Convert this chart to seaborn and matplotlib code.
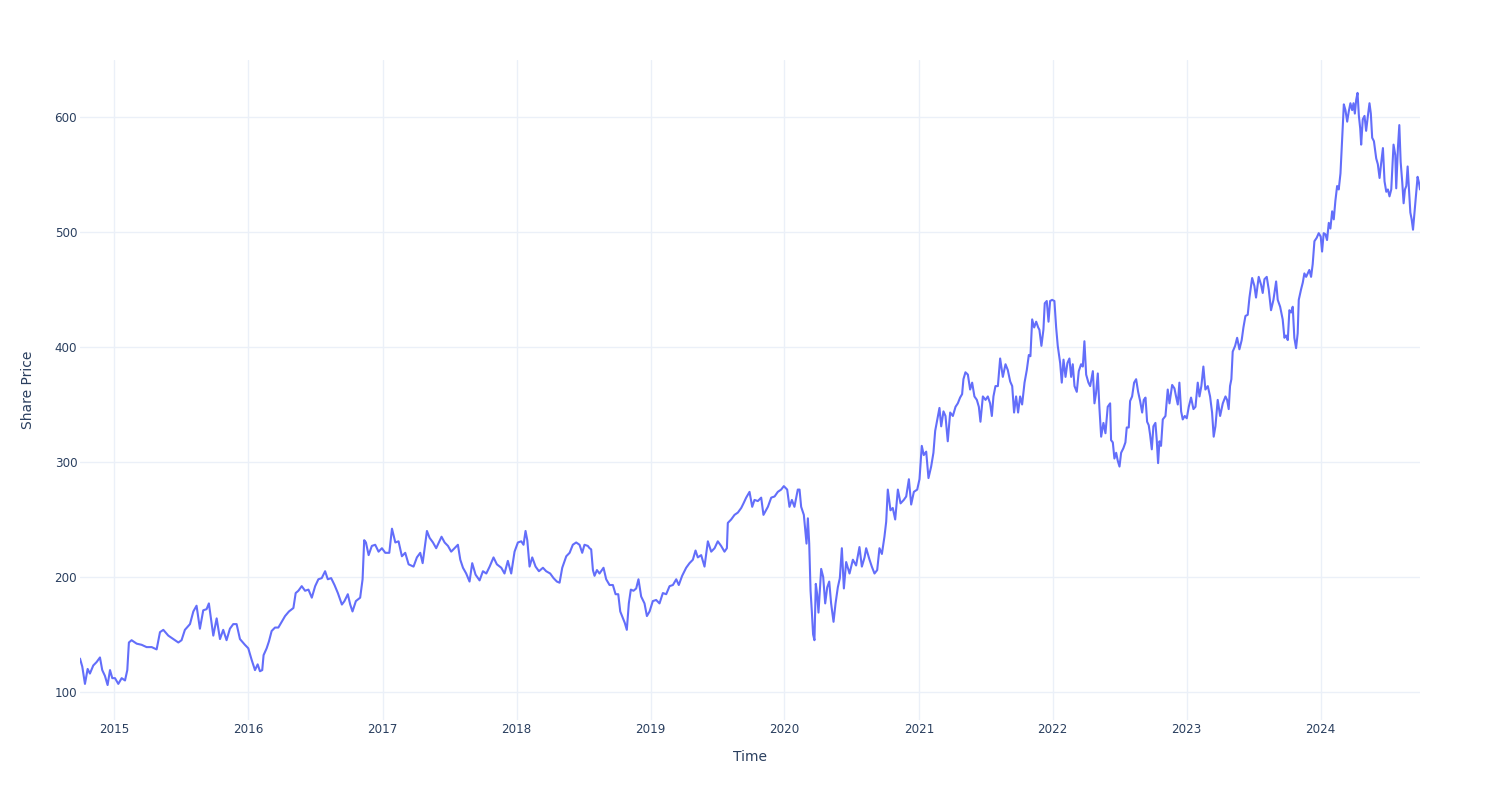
import numpy as np
import pandas as pd
import matplotlib
matplotlib.use("Agg")
import matplotlib.pyplot as plt
import matplotlib.dates as mdates
import seaborn as sns

# ---- data (time as decimal year, share price) ----
t_2014_2015 = [2014.744, 2014.761, 2014.781, 2014.801, 2014.818, 2014.843, 2014.868, 2014.893, 2014.910, 2014.930,
               2014.950, 2014.968, 2014.985, 2015.005, 2015.030, 2015.055, 2015.080, 2015.097, 2015.109, 2015.129,
               2015.167, 2015.204, 2015.241, 2015.279, 2015.316, 2015.341, 2015.366, 2015.403, 2015.440, 2015.478,
               2015.502, 2015.527, 2015.565, 2015.590, 2015.614, 2015.639, 2015.664, 2015.689, 2015.706, 2015.739,
               2015.764, 2015.789, 2015.813, 2015.838, 2015.863, 2015.888, 2015.913, 2015.938, 2015.975]
p_2014_2015 = [129, 122, 107, 120, 116, 123, 126, 130, 119, 114,
               106, 119, 112, 112, 107, 112, 110, 119, 143, 145,
               142, 141, 139, 139, 137, 152, 154, 149, 146, 143,
               145, 154, 159, 170, 175, 155, 171, 172, 177, 149,
               164, 146, 154, 145, 155, 159, 159, 146, 141]

t_2016_2017 = [2016.000, 2016.025, 2016.050, 2016.070, 2016.087, 2016.104, 2016.114, 2016.137, 2016.154, 2016.174,
               2016.199, 2016.224, 2016.249, 2016.274, 2016.303, 2016.336, 2016.353, 2016.373, 2016.398, 2016.423,
               2016.448, 2016.473, 2016.498, 2016.522, 2016.547, 2016.572, 2016.592, 2016.617, 2016.642, 2016.667,
               2016.697, 2016.716, 2016.741, 2016.759, 2016.776, 2016.801, 2016.833, 2016.851, 2016.863, 2016.876,
               2016.896, 2016.920, 2016.945, 2016.970, 2016.995, 2017.020, 2017.050, 2017.070, 2017.095, 2017.119,
               2017.144, 2017.169, 2017.194, 2017.231, 2017.256, 2017.281, 2017.299]
p_2016_2017 = [138, 128, 119, 124, 118, 119, 132, 138, 144, 153,
               156, 156, 161, 166, 170, 173, 186, 188, 192, 188,
               189, 182, 192, 198, 199, 205, 198, 199, 193, 186,
               176, 179, 185, 176, 170, 179, 182, 198, 232, 230,
               219, 227, 228, 222, 225, 221, 221, 242, 230, 231,
               218, 221, 211, 209, 217, 221, 212]

t_2017_2018 = [2017.313, 2017.331, 2017.351, 2017.376, 2017.400, 2017.420, 2017.440, 2017.463, 2017.488, 2017.512,
               2017.537, 2017.562, 2017.580, 2017.600, 2017.624, 2017.649, 2017.669, 2017.694, 2017.724, 2017.749,
               2017.774, 2017.799, 2017.828, 2017.853, 2017.886, 2017.910, 2017.935, 2017.960, 2017.985, 2018.010,
               2018.035, 2018.052, 2018.067, 2018.080, 2018.097, 2018.117, 2018.142, 2018.167, 2018.197, 2018.221,
               2018.251, 2018.276, 2018.301, 2018.321, 2018.341, 2018.371, 2018.396, 2018.420, 2018.445, 2018.470,
               2018.490, 2018.507, 2018.532]
p_2017_2018 = [224, 240, 234, 230, 225, 230, 235, 230, 227, 222,
               225, 228, 215, 208, 203, 196, 212, 202, 197, 205,
               203, 209, 217, 211, 208, 203, 214, 203, 222, 230,
               231, 228, 240, 232, 209, 217, 209, 205, 208, 205,
               203, 199, 196, 195, 208, 218, 221, 228, 230, 228,
               221, 228, 227]

t_2018_2019 = [2018.545, 2018.557, 2018.570, 2018.582, 2018.600, 2018.619, 2018.649, 2018.669, 2018.694, 2018.719,
               2018.739, 2018.759, 2018.774, 2018.794, 2018.808, 2018.823, 2018.838, 2018.853, 2018.873, 2018.893,
               2018.910, 2018.930, 2018.955, 2018.973, 2018.993, 2019.017, 2019.042, 2019.067, 2019.092, 2019.117,
               2019.142, 2019.167, 2019.192, 2019.211, 2019.236, 2019.266, 2019.291, 2019.316, 2019.336, 2019.353,
               2019.378, 2019.403, 2019.428, 2019.453, 2019.478, 2019.502, 2019.527, 2019.552, 2019.570, 2019.577,
               2019.602, 2019.627, 2019.652, 2019.677, 2019.694, 2019.714, 2019.739, 2019.759, 2019.776, 2019.801,
               2019.826, 2019.843]
p_2018_2019 = [225, 224, 206, 201, 206, 203, 208, 198, 193, 193,
               185, 185, 170, 164, 160, 154, 177, 189, 188, 190,
               198, 183, 177, 166, 170, 179, 180, 177, 186, 185,
               192, 193, 198, 193, 201, 208, 212, 215, 223, 217,
               219, 209, 231, 222, 225, 231, 227, 222, 225, 247,
               250, 254, 256, 260, 264, 269, 274, 261, 267, 266,
               269, 254]

t_2019_2021 = [2019.876, 2019.901, 2019.926, 2019.950, 2019.975, 2019.995, 2020.020, 2020.037, 2020.055, 2020.074,
               2020.099, 2020.112, 2020.124, 2020.144, 2020.154, 2020.164, 2020.174, 2020.184, 2020.194, 2020.203,
               2020.213, 2020.223, 2020.233, 2020.243, 2020.253, 2020.263, 2020.273, 2020.288, 2020.303, 2020.318,
               2020.333, 2020.347, 2020.365, 2020.380, 2020.397, 2020.412, 2020.427, 2020.442, 2020.459, 2020.484,
               2020.509, 2020.533, 2020.558, 2020.576, 2020.596, 2020.608, 2020.633, 2020.650, 2020.670, 2020.690,
               2020.707, 2020.725, 2020.744, 2020.757, 2020.769, 2020.789, 2020.806, 2020.824, 2020.844, 2020.864,
               2020.888, 2020.906, 2020.926, 2020.943, 2020.963, 2020.988, 2021.005, 2021.022, 2021.037, 2021.055,
               2021.072, 2021.092, 2021.109, 2021.122]
p_2019_2021 = [261, 269, 270, 274, 276, 279, 276, 261, 267, 261,
               276, 276, 261, 254, 241, 229, 251, 229, 188, 171,
               150, 145, 194, 185, 169, 188, 207, 200, 177, 191,
               196, 177, 161, 177, 191, 199, 225, 190, 213, 203,
               215, 210, 226, 209, 217, 225, 215, 209, 203, 206,
               225, 220, 235, 248, 276, 258, 260, 250, 276, 264,
               267, 270, 285, 263, 274, 276, 285, 314, 306, 309,
               286, 296, 308, 327]

t_2021_2022 = [2021.154, 2021.167, 2021.184, 2021.199, 2021.216, 2021.234, 2021.254, 2021.274, 2021.291, 2021.308,
               2021.323, 2021.333, 2021.348, 2021.366, 2021.383, 2021.398, 2021.415, 2021.433, 2021.448, 2021.460,
               2021.478, 2021.498, 2021.515, 2021.532, 2021.545, 2021.557, 2021.572, 2021.590, 2021.607, 2021.627,
               2021.647, 2021.664, 2021.682, 2021.697, 2021.711, 2021.726, 2021.741, 2021.756, 2021.771, 2021.789,
               2021.806, 2021.821, 2021.833, 2021.846, 2021.861, 2021.876, 2021.891, 2021.900, 2021.915, 2021.930,
               2021.940, 2021.955, 2021.968, 2021.980, 2021.995, 2022.012, 2022.025, 2022.037, 2022.055, 2022.067,
               2022.080, 2022.095, 2022.109, 2022.124, 2022.137, 2022.149, 2022.162, 2022.179, 2022.194, 2022.211,
               2022.224, 2022.236, 2022.249, 2022.266, 2022.279, 2022.299, 2022.311, 2022.323, 2022.336, 2022.348,
               2022.361, 2022.378, 2022.393, 2022.410, 2022.428]
p_2021_2022 = [347, 331, 344, 340, 318, 343, 340, 348, 351, 356,
               359, 372, 378, 376, 363, 369, 357, 354, 348, 335,
               357, 354, 357, 351, 340, 357, 366, 366, 390, 374,
               385, 380, 370, 366, 343, 357, 343, 357, 350, 369,
               380, 393, 392, 424, 417, 422, 417, 415, 401, 415,
               438, 440, 422, 440, 441, 440, 417, 401, 386, 369,
               389, 374, 386, 390, 374, 385, 366, 361, 379, 385,
               383, 405, 376, 369, 366, 379, 351, 360, 377, 347,
               322, 334, 325, 348, 351]

t_2022_2023 = [2022.435, 2022.448, 2022.460, 2022.473, 2022.485, 2022.498, 2022.510, 2022.527, 2022.542, 2022.552,
               2022.567, 2022.577, 2022.592, 2022.607, 2022.622, 2022.637, 2022.652, 2022.667, 2022.679, 2022.692,
               2022.704, 2022.716, 2022.726, 2022.739, 2022.751, 2022.766, 2022.776, 2022.786, 2022.796, 2022.808,
               2022.821, 2022.841, 2022.858, 2022.871, 2022.891, 2022.908, 2022.920, 2022.933, 2022.945, 2022.958,
               2022.970, 2022.985, 2023.000, 2023.015, 2023.032, 2023.050, 2023.065, 2023.082, 2023.095, 2023.109,
               2023.124, 2023.139, 2023.157, 2023.174, 2023.189, 2023.201, 2023.214, 2023.231, 2023.249, 2023.269,
               2023.289, 2023.301, 2023.313, 2023.323, 2023.333, 2023.343, 2023.361, 2023.376, 2023.393, 2023.410,
               2023.423, 2023.438, 2023.455, 2023.468, 2023.488, 2023.505, 2023.517, 2023.537, 2023.555, 2023.567,
               2023.580, 2023.597, 2023.612, 2023.629, 2023.647, 2023.667, 2023.679, 2023.697]
p_2022_2023 = [319, 317, 303, 308, 301, 296, 308, 312, 317, 330,
               330, 353, 357, 369, 372, 361, 353, 343, 354, 356,
               335, 332, 324, 311, 331, 334, 319, 299, 318, 314,
               337, 340, 363, 351, 367, 364, 357, 350, 369, 344,
               337, 340, 338, 348, 356, 346, 348, 369, 357, 366,
               383, 363, 366, 357, 343, 322, 331, 354, 340, 351,
               357, 354, 346, 366, 372, 396, 401, 408, 398, 406,
               417, 427, 428, 443, 460, 453, 443, 461, 454, 447,
               459, 461, 450, 432, 441, 457, 441, 435]

t_2023_2024 = [2023.716, 2023.729, 2023.741, 2023.754, 2023.766, 2023.779, 2023.791, 2023.803, 2023.816, 2023.828,
               2023.836, 2023.853, 2023.866, 2023.878, 2023.891, 2023.903, 2023.915, 2023.928, 2023.940, 2023.953,
               2023.970, 2023.985, 2024.000, 2024.010, 2024.022, 2024.035, 2024.047, 2024.060, 2024.072, 2024.085,
               2024.097, 2024.109, 2024.122, 2024.134, 2024.147, 2024.159, 2024.172, 2024.184, 2024.197, 2024.209,
               2024.221, 2024.234, 2024.244, 2024.254, 2024.264, 2024.274, 2024.284, 2024.294, 2024.301, 2024.313,
               2024.326, 2024.338, 2024.351, 2024.363, 2024.373, 2024.383, 2024.396, 2024.413, 2024.425, 2024.438,
               2024.450, 2024.463, 2024.475, 2024.488, 2024.500, 2024.512, 2024.525, 2024.542, 2024.555, 2024.562,
               2024.575, 2024.585, 2024.595, 2024.607, 2024.617, 2024.627, 2024.637, 2024.647, 2024.657, 2024.667,
               2024.677, 2024.687, 2024.699, 2024.711, 2024.721, 2024.731, 2024.739]
p_2023_2024 = [424, 408, 410, 406, 432, 430, 435, 408, 399, 412,
               441, 450, 456, 464, 461, 464, 467, 461, 472, 492,
               495, 499, 496, 483, 499, 498, 493, 508, 503, 518,
               511, 527, 540, 537, 551, 580, 611, 606, 596, 605,
               612, 606, 612, 603, 615, 621, 601, 590, 576, 598,
               601, 588, 601, 612, 603, 582, 579, 564, 559, 547,
               560, 573, 544, 535, 537, 531, 537, 576, 567, 538,
               574, 593, 561, 543, 525, 537, 540, 557, 537, 517,
               511, 502, 518, 534, 548, 543, 537]

year_ticks = [2015, 2016, 2017, 2018, 2019, 2020, 2021, 2022, 2023, 2024]
price_ticks = [100, 200, 300, 400, 500, 600]

# ---- assemble ----
times = (t_2014_2015 + t_2016_2017 + t_2017_2018 + t_2018_2019 + t_2019_2021
         + t_2021_2022 + t_2022_2023 + t_2023_2024)
prices = (p_2014_2015 + p_2016_2017 + p_2017_2018 + p_2018_2019 + p_2019_2021
          + p_2021_2022 + p_2022_2023 + p_2023_2024)


def to_date(t):
    y = int(np.floor(t))
    start = pd.Timestamp(year=y, month=1, day=1)
    end = pd.Timestamp(year=y + 1, month=1, day=1)
    return start + (end - start) * (t - y)


df = pd.DataFrame({"Time": [to_date(t) for t in times], "Share Price": prices})

sns.set_theme(style="white")
plt.rcParams["font.family"] = ["DejaVu Sans"]

fig = plt.figure(figsize=(15, 8), dpi=100)
fig.patch.set_facecolor("white")
ax = fig.add_axes([80 / 1500, 80 / 800, 1340 / 1500, 660 / 800])
ax.set_facecolor("white")

sns.lineplot(data=df, x="Time", y="Share Price", color="#636EFA",
             linewidth=1.5, ax=ax, sort=False)

ax.set_xlim(df["Time"].iloc[0], df["Time"].iloc[-1])
ax.set_ylim(75.6, 649.6)
ax.set_yticks(price_ticks)
ax.set_yticklabels([str(v) for v in price_ticks])
ax.set_xticks([mdates.date2num(pd.Timestamp(year=y, month=1, day=1)) for y in year_ticks])
ax.set_xticklabels([str(y) for y in year_ticks])

ax.grid(True, color="#EBF0F8", linewidth=1)
ax.set_axisbelow(True)
for s in ax.spines.values():
    s.set_visible(False)
ax.tick_params(length=0, labelsize=8.6, colors="#2a3f5f", pad=2)
ax.set_xlabel("Time", fontsize=10, color="#2a3f5f", labelpad=10)
ax.set_ylabel("Share Price", fontsize=10, color="#2a3f5f", labelpad=14)

fig.savefig("out.png", dpi=100, facecolor="white")
